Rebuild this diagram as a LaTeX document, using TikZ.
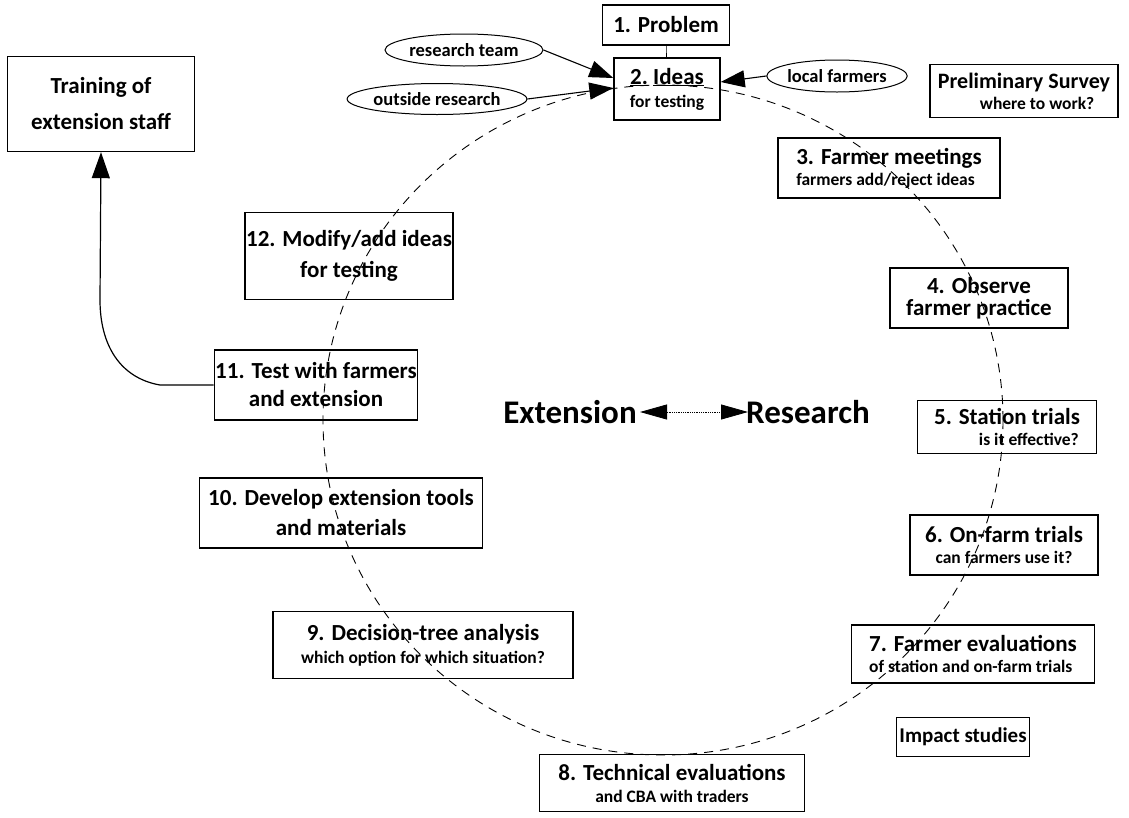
\documentclass[tikz,border=0pt]{standalone}
\usepackage{fontspec}
\setmainfont{Carlito}
\usetikzlibrary{arrows.meta,shapes.geometric}
\newcommand{\fbig}{\fontsize{33}{36}\selectfont}
\newcommand{\ftwo}{\fontsize{17.5}{21}\selectfont}
\begin{document}
\begin{tikzpicture}[x=1pt,y=-1pt,
  box/.style={draw, line width=1.4pt, rectangle, inner sep=1pt, align=center},
  fs/.style={font=\bfseries\fontsize{23}{#1}\selectfont},
  bubble/.style={draw, ellipse, line width=1pt, inner sep=0pt, font=\bfseries\fontsize{18.5}{20}\selectfont},
  bigtip/.style={-{Triangle[length=24pt,width=17pt]}, line width=1.1pt},
  cycle/.style={line width=0.9pt, dash pattern=on 9pt off 7pt}]
\useasboundingbox (0,0) rectangle (1129,817);
\fill[white] (0,0) rectangle (1129,817);
% dashed research/extension cycle
\draw[cycle] (663,420) ellipse [x radius=340, y radius=335];
% boxes
\node[box, fs=24, minimum width=127, minimum height=40] (prob) at (666,25) {1. Problem};
\node[box, fs=23, minimum width=106, minimum height=62] (ideas) at (667,89) {\underline{2.} \underline{Ideas}\\\ftwo for testing};
\node[box, fs=21, minimum width=188, minimum height=53] (prelim) at (1024,91) {\fontsize{22}{21}\selectfont Preliminary Survey\\\ftwo\hspace*{1.5em}where to work?};
\node[box, fs=21, minimum width=222, minimum height=60, align=left] (s3) at (889,168) {3. Farmer meetings\\\ftwo farmers add/reject ideas};
\node[box, fs=36, minimum width=187, minimum height=95] (train) at (101,104) {Training of\\extension staff};
\node[box, fs=31, minimum width=182, minimum height=87] (s12) at (349,256) {12. Modify/add ideas\\for testing};
\node[box, fs=22.5, minimum width=178, minimum height=60] (s4) at (979,298) {4. Observe\\farmer practice};
\node[box, fs=28, minimum width=197, minimum height=70] (s11) at (316,385) {11. Test with farmers\\and extension};
\node[box, fs=21, minimum width=179, minimum height=53] (s5) at (1007,427) {5. Station trials\\\ftwo\hspace*{2.5em}is it effective?};
\node[box, fs=30, minimum width=283, minimum height=70] (s10) at (341,513) {10. Develop extension tools\\and materials};
\node[box, fs=21, minimum width=188, minimum height=60] (s6) at (1004,545) {6. On-farm trials\\\ftwo can farmers use it?};
\node[box, fs=23, minimum width=300, minimum height=67] (s9) at (423,645) {9. Decision-tree analysis\\\ftwo which option for which situation?};
\node[box, fs=21, minimum width=243, minimum height=58, align=left] (s7) at (973,654) {7. Farmer evaluations\\\ftwo of station and on-farm trials};
\node[box, font=\bfseries\fontsize{21}{24}\selectfont, minimum width=133, minimum height=39] (impact) at (963,737) {Impact studies};
\node[box, fs=22, minimum width=265, minimum height=57] (s8) at (672,783) {8. Technical evaluations\\\ftwo and CBA with traders};
% input bubbles
\node[bubble, minimum width=158, minimum height=32] (rteam) at (464,50) {research team};
\node[bubble, minimum width=165, minimum height=31] (orese) at (437,99) {outside research};
\node[bubble, minimum width=140, minimum height=32] (lfarm) at (837,76) {local farmers};
% centre labels
\node[font=\bfseries\fbig] (ext) at (570,412) {Extension};
\node[font=\bfseries\fbig] (res) at (808,412) {Research};
% connectors
\draw[line width=0.6pt] (prob) -- (ideas);
\draw[bigtip] (rteam.east) -- (ideas.west |- 0,78);
\draw[bigtip] (orese.east) -- (ideas.west |- 0,88);
\draw[bigtip] (lfarm.west) -- (ideas.east |- 0,82);
\coordinate (e1) at (640,412);
\coordinate (r1) at (748,412);
\draw[{Triangle[length=27pt,width=15pt]}-{Triangle[length=27pt,width=15pt]}, line width=0.8pt, densely dotted] (e1) -- (r1);
\coordinate (k1) at (160,385);
\coordinate (k2) at (100,300);
\draw[-{Triangle[length=26pt,width=18pt]}, line width=1.2pt] (s11.west) -- (k1) .. controls (120,378) and (100,345) .. (k2) -- (train.south);
\end{tikzpicture}
\end{document}
